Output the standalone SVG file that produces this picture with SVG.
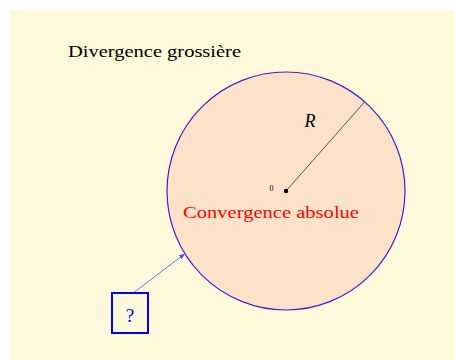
<svg xmlns="http://www.w3.org/2000/svg" width="455" height="360" viewBox="0 0 455 360">
<defs>
<marker id="ah" viewBox="0 0 10 10" refX="9" refY="5" markerWidth="6" markerHeight="6" orient="auto" markerUnits="userSpaceOnUse">
<path d="M0,1 L10,5 L0,9 Z" fill="#4a4aff"/>
</marker>
</defs>
<rect x="10" y="11" width="445" height="349" fill="#fdf9da"/>
<text font-family="'Liberation Serif', 'DejaVu Serif', serif" x="68" y="57" font-size="16.5" fill="#000" textLength="173" lengthAdjust="spacingAndGlyphs">Divergence grossière</text>
<g id="disk">
<circle cx="286" cy="191" r="119" fill="#fce2c8" stroke="#4a1ccc" stroke-width="1.2"/>
<line x1="286" y1="191" x2="364.5" y2="102" stroke="#555" stroke-width="1"/>
<circle cx="286" cy="191" r="2.2" fill="#000"/>
<text font-family="'Liberation Serif', 'DejaVu Serif', serif" x="271.5" y="191" font-size="8" text-anchor="middle" fill="#000">0</text>
<text font-family="'Liberation Serif', 'DejaVu Serif', serif" x="310" y="127" font-size="18" font-style="italic" text-anchor="middle" fill="#000">R</text>
<text font-family="'Liberation Serif', 'DejaVu Serif', serif" x="183" y="218" font-size="17" fill="#ff0000" textLength="176" lengthAdjust="spacingAndGlyphs">Convergence absolue</text>
</g>
<g id="qbox">
<rect x="112" y="293" width="36" height="40" fill="none" stroke="#0000ff" stroke-width="2"/>
<text font-family="'Liberation Serif', 'DejaVu Serif', serif" x="130" y="322" font-size="19" text-anchor="middle" fill="#0000ff">?</text>
</g>
<g id="connectors">
<line x1="134.5" y1="292" x2="184.5" y2="254" stroke="#4a4aff" stroke-width="0.8" marker-end="url(#ah)"/>
</g>
</svg>
